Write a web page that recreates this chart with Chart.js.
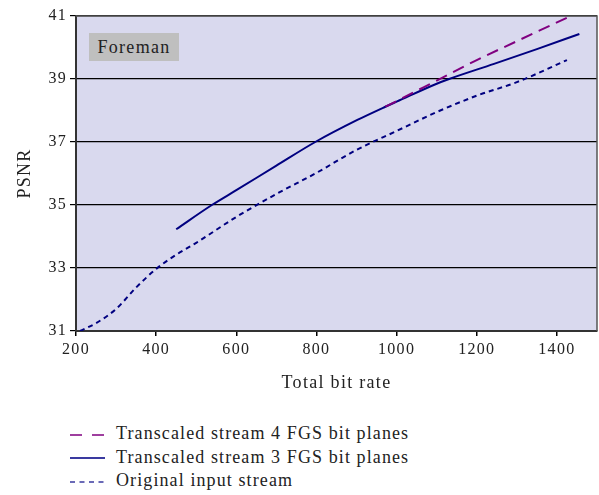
<!DOCTYPE html>
<html>
<head>
<meta charset="utf-8">
<script src="https://cdn.jsdelivr.net/npm/chart.js@4"></script>
<style>
  body { margin: 0; background: #fff; }
  #wrap { position: relative; width: 599px; height: 495px; }
  #chart { position: absolute; left: 0; top: 0; }
  #tag {
    position: absolute; left: 89px; top: 33px; width: 90px; height: 28px;
    background: #bfbfbf; font: 18px "Liberation Serif", serif; color: #222;
    letter-spacing: 1.3px; line-height: 28px; text-align: center;
  }
  #legend {
    position: absolute; left: 69px; top: 422px;
    font: 18px "Liberation Serif", serif; color: #222; letter-spacing: 1.1px;
  }
  #legend div { height: 23.5px; line-height: 23.5px; white-space: nowrap; }
  #legend svg { vertical-align: middle; margin-right: 10px; }
</style>
</head>
<body>
<div id="wrap">
  <canvas id="chart" width="599" height="400"></canvas>
  <div id="tag">Foreman</div>
  <div id="legend">
    <div><svg width="37" height="10"><line x1="1" y1="5" x2="36" y2="5" stroke="#800080" stroke-width="1.5" stroke-dasharray="12,10"/></svg>Transcaled stream 4 FGS bit planes</div>
    <div><svg width="37" height="10"><line x1="1" y1="5" x2="36" y2="5" stroke="#3a3aa0" stroke-width="2"/></svg>Transcaled stream 3 FGS bit planes</div>
    <div><svg width="37" height="10"><line x1="1" y1="5" x2="36" y2="5" stroke="#3a3aa0" stroke-width="1.5" stroke-dasharray="5,4.5"/></svg>Original input stream</div>
  </div>
</div>
<script>
// Original input stream
const origRate = [210, 250, 300, 350, 400, 450, 500, 600, 700, 800, 900, 1000, 1100, 1200, 1300, 1425];
const origPsnr = [31.0, 31.25, 31.7, 32.38, 32.97, 33.42, 33.8, 34.62, 35.35, 36.02, 36.75, 37.35, 37.95, 38.47, 38.9, 39.6];

// Transcaled stream 3 FGS bit planes
const fgs3Rate = [450, 539, 600, 700, 797, 902, 972, 1000, 1100, 1131, 1243, 1350, 1456];
const fgs3Psnr = [34.23, 35.0, 35.47, 36.25, 37.0, 37.7, 38.12, 38.28, 38.85, 39.0, 39.48, 39.95, 40.43];

// Transcaled stream 4 FGS bit planes
const fgs4Rate = [972, 1000, 1100, 1200, 1300, 1431];
const fgs4Psnr = [38.12, 38.3, 38.95, 39.6, 40.2, 40.98];

const yTicks = [31, 33, 35, 37, 39, 41];
const xTicks = [200, 400, 600, 800, 1000, 1200, 1400];

function toPoints(xs, ys) {
  return xs.map((x, i) => ({ x: x, y: ys[i] }));
}

// plot background and frame, plus wider letter spacing for the serif text
const plotFrame = {
  id: "plotFrame",
  beforeDraw(chart) {
    const a = chart.chartArea;
    const ctx = chart.ctx;
    ctx.letterSpacing = "1.3px";
    ctx.save();
    ctx.fillStyle = "#d9d9ee";
    ctx.fillRect(a.left, a.top, a.right - a.left, a.bottom - a.top);
    ctx.restore();
  },
  afterDatasetsDraw(chart) {
    const a = chart.chartArea;
    const ctx = chart.ctx;
    ctx.save();
    ctx.strokeStyle = "#555";
    ctx.lineWidth = 1.5;
    ctx.beginPath();
    ctx.moveTo(a.left, a.top);
    ctx.lineTo(a.right, a.top);
    ctx.lineTo(a.right, a.bottom);
    ctx.stroke();
    ctx.restore();
  },
};

const tickFont = { family: "'Liberation Serif', serif", size: 16 };
const titleFont = { family: "'Liberation Serif', serif", size: 18 };

new Chart(document.getElementById("chart"), {
  type: "scatter",
  data: {
    datasets: [
      {
        label: "Transcaled stream 4 FGS bit planes",
        data: toPoints(fgs4Rate, fgs4Psnr),
        showLine: true,
        borderColor: "#800080",
        borderWidth: 2,
        borderDash: [12, 7],
        pointRadius: 0,
        cubicInterpolationMode: "monotone",
      },
      {
        label: "Transcaled stream 3 FGS bit planes",
        data: toPoints(fgs3Rate, fgs3Psnr),
        showLine: true,
        borderColor: "#000080",
        borderWidth: 2,
        pointRadius: 0,
        cubicInterpolationMode: "monotone",
      },
      {
        label: "Original input stream",
        data: toPoints(origRate, origPsnr),
        showLine: true,
        borderColor: "#000080",
        borderWidth: 2,
        borderDash: [5, 4],
        pointRadius: 0,
        cubicInterpolationMode: "monotone",
      },
    ],
  },
  options: {
    responsive: false,
    animation: false,
    layout: { padding: { top: 16, right: 2, left: 0, bottom: 0 } },
    plugins: { legend: { display: false }, tooltip: { enabled: false } },
    scales: {
      x: {
        type: "linear",
        min: 200,
        max: 1500,
        afterBuildTicks: (s) => { s.ticks = xTicks.map((v) => ({ value: v })); },
        afterFit: (s) => { s.height = 69; },
        ticks: { color: "#222", font: tickFont, padding: 4, maxRotation: 0, callback: (v) => String(v) },
        grid: { drawOnChartArea: false, drawTicks: true, tickLength: 5, color: "#000", lineWidth: 1.5 },
        border: { color: "#333", width: 2 },
        title: { display: true, text: "Total bit rate", color: "#222", font: titleFont, padding: { top: 0, bottom: 6 } },
      },
      y: {
        min: 31,
        max: 41,
        afterBuildTicks: (s) => { s.ticks = yTicks.map((v) => ({ value: v })); },
        afterFit: (s) => { s.width = 76; },
        ticks: { color: "#222", font: tickFont, padding: 3, callback: (v) => String(v) },
        grid: { color: "#000", lineWidth: 1.2, tickLength: 6 },
        border: { color: "#333", width: 2 },
        title: { display: true, text: "PSNR", color: "#222", font: titleFont, padding: { top: 14, bottom: 0 } },
      },
    },
  },
  plugins: [plotFrame],
});
</script>
</body>
</html>
